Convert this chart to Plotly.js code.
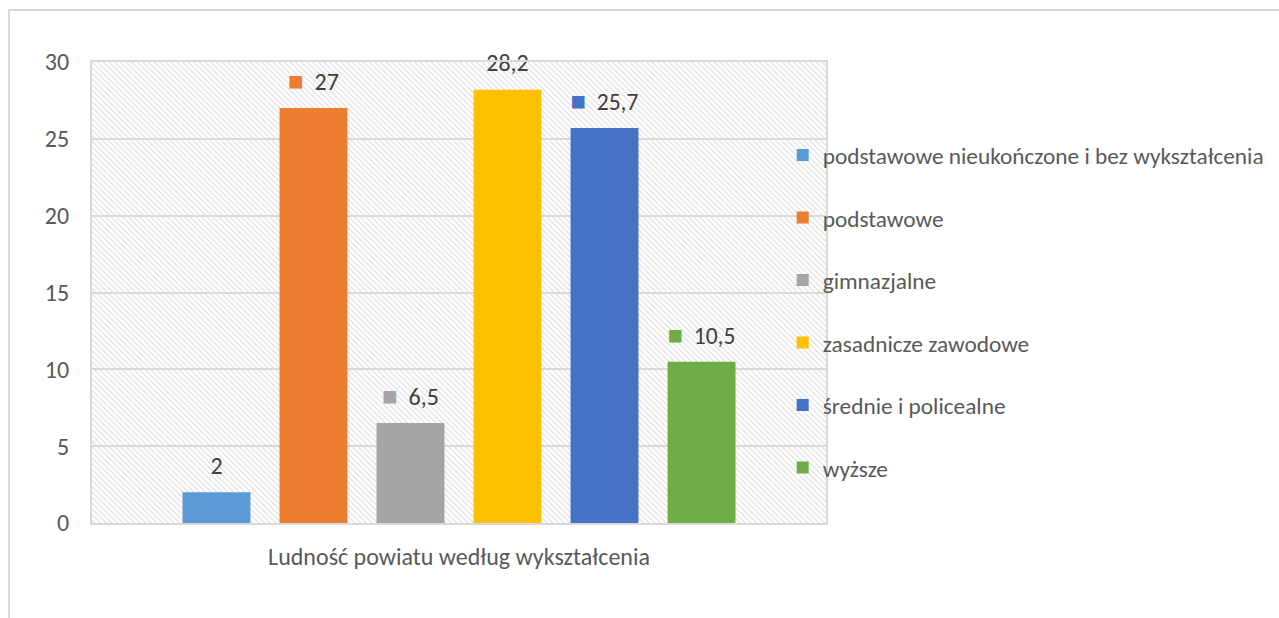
<!DOCTYPE html>
<html>
<head>
<meta charset="utf-8">
<script src="https://cdn.plot.ly/plotly-3.0.1.min.js"></script>
<style>
  body { margin: 0; background: #fff; }
  #chart { width: 1279px; height: 618px; }
  #frame { position: absolute; left: 8px; top: 9px; width: 1300px; height: 700px;
           border-left: 2px solid #d9d9d9; border-top: 2px solid #d9d9d9; pointer-events: none; }
</style>
</head>
<body>
<div id="chart"></div>
<div id="frame"></div>
<script>
// data
var category = 'Ludność powiatu według wykształcenia';
var seriesNames = ['podstawowe nieukończone i bez wykształcenia', 'podstawowe', 'gimnazjalne',
                   'zasadnicze zawodowe', 'średnie i policealne', 'wyższe'];
var seriesValues = [2, 27, 6.5, 28.2, 25.7, 10.5];
var seriesColors = ['#5B9BD5', '#ED7D31', '#A5A5A5', '#FFC000', '#4472C4', '#70AD47'];
var labelKey = [false, true, true, false, true, true]; // legend key shown next to the label
var yTicks = [0, 5, 10, 15, 20, 25, 30];

var font = '"Carlito", Calibri, Lato, "Open Sans", sans-serif';

// hatched plot background
var bg = {
  x: [category], y: [30], type: 'bar',
  offset: -0.5, width: 1,
  marker: { color: 'rgba(0,0,0,0)', line: { width: 0 },
            pattern: { shape: '\\', fgcolor: '#d9d9d9', bgcolor: 'rgba(0,0,0,0)', size: 4, solidity: 0.25 } },
  showlegend: false, hoverinfo: 'skip'
};

var traces = [bg];
seriesNames.forEach(function (name, i) {
  var lbl = '<span style="font-size:24px">' + String(seriesValues[i]).replace('.', ',') + '</span>';
  if (labelKey[i]) lbl = '<span style="color:' + seriesColors[i] + ';font-size:26px">■</span><span style="font-size:24px">  </span>' + lbl;
  traces.push({
    x: [category], y: [seriesValues[i]], name: name, type: 'bar',
    legendgroup: 'g' + i,
    marker: { color: seriesColors[i] },
    text: [lbl + '<br><span style="font-size:2px"> </span>'],
    textposition: 'outside', cliponaxis: false,
    textfont: { family: font, size: 11, color: '#404040' },
    hoverinfo: 'name+y'
  });
});

var layout = {
  width: 1279, height: 618,
  margin: { l: 92, r: 453, t: 62, b: 95, autoexpand: false },
  paper_bgcolor: '#fff', plot_bgcolor: '#fff',
  font: { family: font, size: 24, color: '#595959' },
  barmode: 'group', bargap: 0.207, bargroupgap: 0.3,
  xaxis: { type: 'category', showline: true, linecolor: '#d9d9d9', linewidth: 2, mirror: true,
           ticks: '', ticklabelstandoff: 11, tickfont: { size: 24, color: '#595959' } },
  yaxis: { range: [0, 30], tickvals: yTicks, showgrid: true, gridcolor: '#d9d9d9', gridwidth: 2,
           showline: true, linecolor: '#d9d9d9', linewidth: 2, mirror: true, zeroline: false,
           ticks: '', ticklabelstandoff: 16, tickfont: { size: 24, color: '#595959' } },
  showlegend: true,
  legend: { x: 0.941, xanchor: 'left', y: 0.845, yanchor: 'top', tracegroupgap: 29.2,
            font: { size: 23.3, color: '#595959' }, bgcolor: 'rgba(0,0,0,0)' },
  hovermode: 'closest'
};

Plotly.newPlot('chart', traces, layout, { displayModeBar: false });
</script>
</body>
</html>
